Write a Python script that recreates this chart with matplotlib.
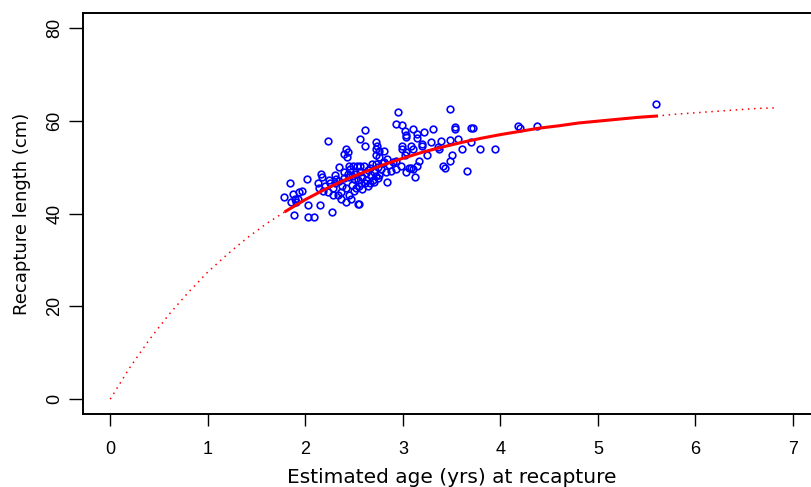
import numpy as np
from matplotlib import pyplot as plt

plt.rcParams["font.family"] = ["Liberation Sans", "DejaVu Sans"]

# observed recaptures: estimated age (yrs) and length (cm)
obs_age = [
    2.95, 2.93, 2.99, 2.615, 2.23, 2.56, 2.615, 2.42, 2.44, 2.40,
    2.72, 2.73, 2.76, 2.81, 2.72, 2.72,
    3.02, 3.03, 3.03, 3.10, 3.14, 3.14,
    2.99, 2.99, 3.08, 3.10, 3.03, 3.02,
    2.76, 2.84, 2.93, 2.81, 2.72,
    2.43, 2.45, 2.49, 2.53, 2.56, 2.60, 2.66,
    2.34, 2.16, 2.17, 2.02, 1.84,
    2.30, 2.31, 2.25, 2.30, 2.13, 2.14,
    1.97, 1.94, 1.87, 1.89, 1.92, 1.78, 1.85, 1.90,
    2.03, 2.15, 1.88, 2.03, 2.09, 2.27,
    2.37, 2.33, 2.37, 2.45, 2.47, 2.42,
    2.54, 2.55,
    2.23, 2.28, 2.18,
    2.52, 2.57, 2.61, 2.66, 2.54, 2.45, 2.62, 2.67,
    2.69, 2.76, 2.83, 2.88, 2.93, 2.98, 3.03, 3.10, 3.14,
    2.84, 3.06, 3.08,
    3.48, 3.53, 3.53, 3.70, 3.72, 4.18, 4.20, 4.37,
    3.31, 3.22,
    3.57, 3.48, 3.39, 3.29, 3.20, 3.20, 3.70,
    3.61, 3.79, 3.94,
    3.50, 3.48, 3.41, 3.43, 3.66,
    3.25, 3.17, 3.12,
    3.36, 3.37,
    5.60,
    2.40, 2.44, 2.48, 2.50, 2.52, 2.56, 2.58, 2.62, 2.64, 2.68,
    2.70, 2.72, 2.74, 2.78, 2.80, 2.86, 2.90, 2.38, 2.42, 2.48,
    2.50, 2.58, 2.35, 2.40, 2.28, 2.20, 2.24, 2.55, 2.46, 2.70,
    2.74, 2.64,
]
obs_len = [
    61.8, 59.3, 59.1, 58.0, 55.6, 56.1, 54.6, 54.0, 53.3, 52.8,
    55.3, 54.6, 53.5, 53.5, 53.9, 52.5,
    57.8, 56.9, 56.4, 58.2, 57.2, 56.2,
    54.6, 53.9, 54.6, 53.9, 53.2, 52.6,
    52.1, 51.8, 51.4, 51.0, 50.7,
    52.1, 50.2, 50.2, 50.2, 50.2, 50.2, 49.8,
    50.0, 48.5, 47.8, 47.4, 46.5,
    48.2, 47.5, 46.5, 46.5, 46.5, 45.4,
    44.9, 44.6, 44.2, 43.1, 43.1, 43.5, 42.5, 42.5,
    41.9, 41.9, 39.7, 39.2, 39.2, 40.3,
    44.6, 43.9, 43.1, 44.0, 43.1, 42.5,
    42.1, 42.1,
    44.6, 45.4, 44.9,
    45.4, 46.5, 46.5, 46.5, 47.2, 47.9, 48.7, 48.3,
    47.2, 48.2, 48.9, 49.2, 49.6, 50.3, 48.9, 49.6, 50.3,
    46.7, 49.9, 49.9,
    62.5, 58.6, 58.1, 58.4, 58.4, 58.8, 58.4, 58.8,
    58.2, 57.5,
    56.1, 55.9, 55.6, 55.3, 55.0, 54.5, 55.3,
    53.9, 53.9, 53.9,
    52.7, 51.4, 50.3, 49.7, 49.2,
    52.5, 51.4, 47.8,
    54.3, 53.9,
    63.6,
    49.0, 48.5, 48.0, 47.5, 48.6, 49.0, 47.8, 47.2, 49.4, 50.6,
    49.0, 48.0, 50.0, 49.5, 50.8, 50.5, 51.2, 46.0, 45.5, 46.2,
    44.8, 45.2, 47.0, 47.6, 44.0, 46.0, 47.2, 46.0, 49.5, 46.8,
    47.6, 46.0,
]

# fitted growth curve
fit_age = [0, 0.2, 0.4, 0.6, 0.8, 1.0, 1.2, 1.4, 1.6, 1.8, 2.0, 2.2, 2.4,
           2.6, 2.8, 3.0, 3.2, 3.4, 3.6, 3.8, 4.0, 4.2, 4.4, 4.6, 4.8,
           5.0, 5.2, 5.4, 5.6, 5.8, 6.0, 6.2, 6.4, 6.6, 6.85]
fit_len = [0, 6.8, 12.8, 18.2, 23.0, 27.4, 31.2, 34.7, 37.8, 40.5, 43.0,
           45.2, 47.2, 48.9, 50.5, 51.9, 53.2, 54.3, 55.3, 56.2, 57.0,
           57.7, 58.4, 58.9, 59.5, 59.9, 60.3, 60.7, 61.0, 61.4, 61.7,
           62.0, 62.3, 62.6, 62.8]
obs_range = (1.8, 5.6)

fit_age = np.array(fit_age)
fit_len = np.array(fit_len)
inside = (fit_age >= obs_range[0]) & (fit_age <= obs_range[1])
before = fit_age <= obs_range[0]
after = fit_age >= obs_range[1]

fig = plt.figure(figsize=(8.11, 4.87), dpi=100)
ax = fig.add_axes([0.1023, 0.1499, 0.9092, 0.8234])

ax.plot(obs_age, obs_len, "o", mfc="none", mec="#0000ff", ms=4.8, mew=1.2,
        zorder=2)
ax.plot(fit_age[inside], fit_len[inside], "-", color="#ff0000", lw=2.2,
        zorder=3)
ax.plot(fit_age[before], fit_len[before], color="#ff0000", lw=1.1,
        ls=(0, (1, 3)), zorder=3)
ax.plot(fit_age[after], fit_len[after], color="#ff0000", lw=1.1,
        ls=(0, (1, 3)), zorder=3)

ax.set_xlim(-0.28, 7.28)
ax.set_ylim(-3.2, 83.2)
ax.set_xticks(range(0, 8))
ax.set_yticks([0, 20, 40, 60, 80])
ax.tick_params(axis="x", direction="out", length=8.5, width=1.0,
               labelsize=13, pad=11)
ax.tick_params(axis="y", direction="out", length=10, width=1.0,
               labelsize=13, pad=4)
for lab in ax.get_yticklabels():
    lab.set_rotation(90)
    lab.set_va("center")
for s in ax.spines.values():
    s.set_linewidth(1.4)

ax.set_xlabel("Estimated age (yrs) at recapture", fontsize=14.5,
              family="DejaVu Sans", labelpad=7)
ax.set_ylabel("Recapture length (cm)", fontsize=13,
              family="DejaVu Sans", labelpad=11)

fig.savefig("out.png", dpi=100)
